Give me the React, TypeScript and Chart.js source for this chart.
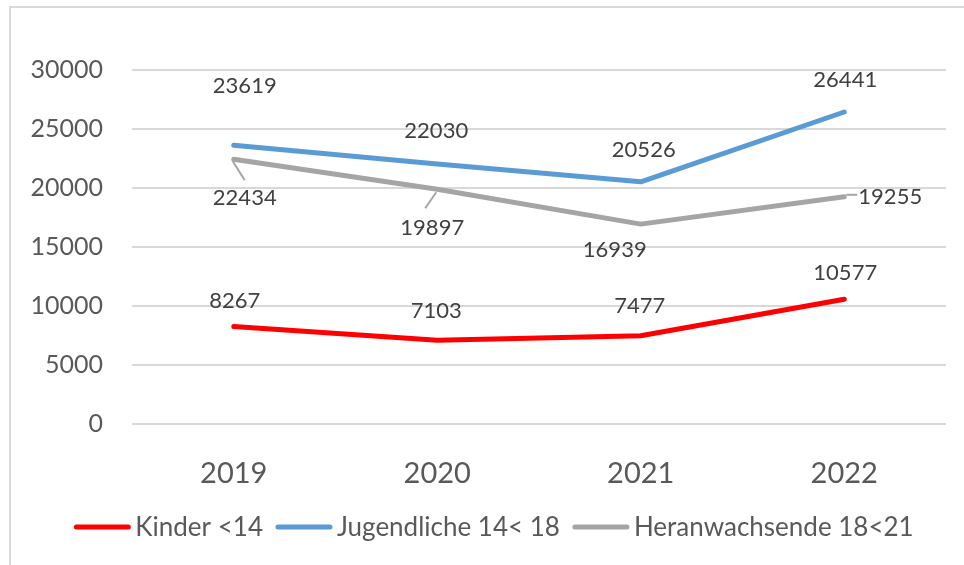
import React, { useEffect, useRef } from "react";
import { Chart, registerables } from "chart.js";

Chart.register(...registerables);

const categories = ["2019", "2020", "2021", "2022"];
const seriesNames = ["Kinder <14", "Jugendliche 14< 18", "Heranwachsende 18<21"];
const kinder = [8267, 7103, 7477, 10577];
const jugendliche = [23619, 22030, 20526, 26441];
const heranwachsende = [22434, 19897, 16939, 19255];
const yTicks = [0, 5000, 10000, 15000, 20000, 25000, 30000];

const COLORS = ["#ff0000", "#5b9bd5", "#a5a5a5"];
const FONT = "Lato, 'Open Sans', sans-serif";
const TEXT = "#595959";
const LABEL_TEXT = "#404040";

// label placement relative to each point: [dx, dy] per dataset / index
const LABEL_OFFSETS: number[][][] = [
  [[1, -26], [-1, -29], [-1, -30], [1, -26]],
  [[11, -59], [-1, -33], [3, -32], [1, -32]],
  [[11, 39], [-5, 39], [-26, 26], [46, 0]],
];
// leader lines: [dataset, index, x1, y1, x2, y2] relative to point
const LEADERS: number[][] = [
  [2, 0, -1, 2, 11, 21],
  [2, 1, -1, 3, -12, 19],
  [2, 3, 2, -2, 13, -2],
];

const labelPlugin = {
  id: "valueLabels",
  afterDatasetsDraw(chart: any) {
    const ctx = chart.ctx;
    ctx.save();
    ctx.strokeStyle = "#a5a5a5";
    ctx.lineWidth = 2;
    LEADERS.forEach(([d, i, x1, y1, x2, y2]) => {
      const el = chart.getDatasetMeta(d).data[i];
      ctx.beginPath();
      ctx.moveTo(el.x + x1, el.y + y1);
      ctx.lineTo(el.x + x2, el.y + y2);
      ctx.stroke();
    });
    ctx.font = `22px ${FONT}`;
    ctx.fillStyle = LABEL_TEXT;
    ctx.textAlign = "center";
    ctx.textBaseline = "middle";
    chart.data.datasets.forEach((ds: any, d: number) => {
      const meta = chart.getDatasetMeta(d);
      meta.data.forEach((el: any, i: number) => {
        const [dx, dy] = LABEL_OFFSETS[d][i];
        ctx.fillText(String(ds.data[i]), el.x + dx, el.y + dy);
      });
    });
    ctx.restore();
  },
};

const legendPlugin = {
  id: "customLegend",
  afterDraw(chart: any) {
    const ctx = chart.ctx;
    ctx.save();
    ctx.font = `26px ${FONT}`;
    const lineW = 56;
    const gap = 5;
    const itemGap = 13;
    const widths = seriesNames.map((n) => lineW + gap + ctx.measureText(n).width);
    const total = widths.reduce((a, b) => a + b, 0) + itemGap * (widths.length - 1);
    let x = 494 - total / 2;
    const y = 527;
    seriesNames.forEach((n, k) => {
      ctx.strokeStyle = COLORS[k];
      ctx.lineWidth = 5;
      ctx.lineCap = "round";
      ctx.beginPath();
      ctx.moveTo(x + 2, y);
      ctx.lineTo(x + lineW - 2, y);
      ctx.stroke();
      ctx.fillStyle = TEXT;
      ctx.textAlign = "left";
      ctx.textBaseline = "middle";
      ctx.fillText(n, x + lineW + gap, y + 1);
      x += widths[k] + itemGap;
    });
    ctx.restore();
  },
};

export default function App() {
  const ref = useRef<HTMLCanvasElement | null>(null);
  useEffect(() => {
    document.body.style.margin = "0";
    const chart = new Chart(ref.current as HTMLCanvasElement, {
      type: "line",
      data: {
        labels: categories,
        datasets: [kinder, jugendliche, heranwachsende].map((data, k) => ({
          label: seriesNames[k],
          data,
          borderColor: COLORS[k],
          backgroundColor: COLORS[k],
          borderWidth: 5,
          pointRadius: 0,
          tension: 0,
          borderCapStyle: "round" as const,
          borderJoinStyle: "round" as const,
        })),
      },
      options: {
        animation: false,
        responsive: false,
        layout: { padding: { left: 0, top: 70, right: 18, bottom: 0 } },
        plugins: { legend: { display: false }, tooltip: { enabled: false } },
        scales: {
          x: {
            offset: true,
            grid: { display: false },
            border: { display: false },
            ticks: { font: { family: FONT, size: 29 }, color: TEXT, padding: 24 },
            afterFit: (s: any) => {
              s.height = 141;
            },
          },
          y: {
            min: 0,
            max: 30000,
            afterBuildTicks: (s: any) => {
              s.ticks = yTicks.map((v) => ({ value: v }));
            },
            grid: { color: "#d9d9d9", lineWidth: 2, drawTicks: false },
            border: { display: false },
            ticks: {
              font: { family: FONT, size: 25 },
              color: TEXT,
              padding: 29,
              callback: (v: any) => String(v),
            },
            afterFit: (s: any) => {
              s.width = 132;
            },
          },
        },
      },
      plugins: [labelPlugin, legendPlugin],
    });
    return () => chart.destroy();
  }, []);
  return (
    <div style={{ position: "relative", width: 964, height: 565, overflow: "hidden", background: "#fff" }}>
      <div
        style={{
          position: "absolute",
          left: 9,
          top: 6,
          width: 1000,
          height: 600,
          borderTop: "2px solid #d9d9d9",
          borderLeft: "2px solid #d9d9d9",
        }}
      />
      <canvas ref={ref} width={964} height={565} style={{ position: "absolute", left: 0, top: 0 }} />
    </div>
  );
}
